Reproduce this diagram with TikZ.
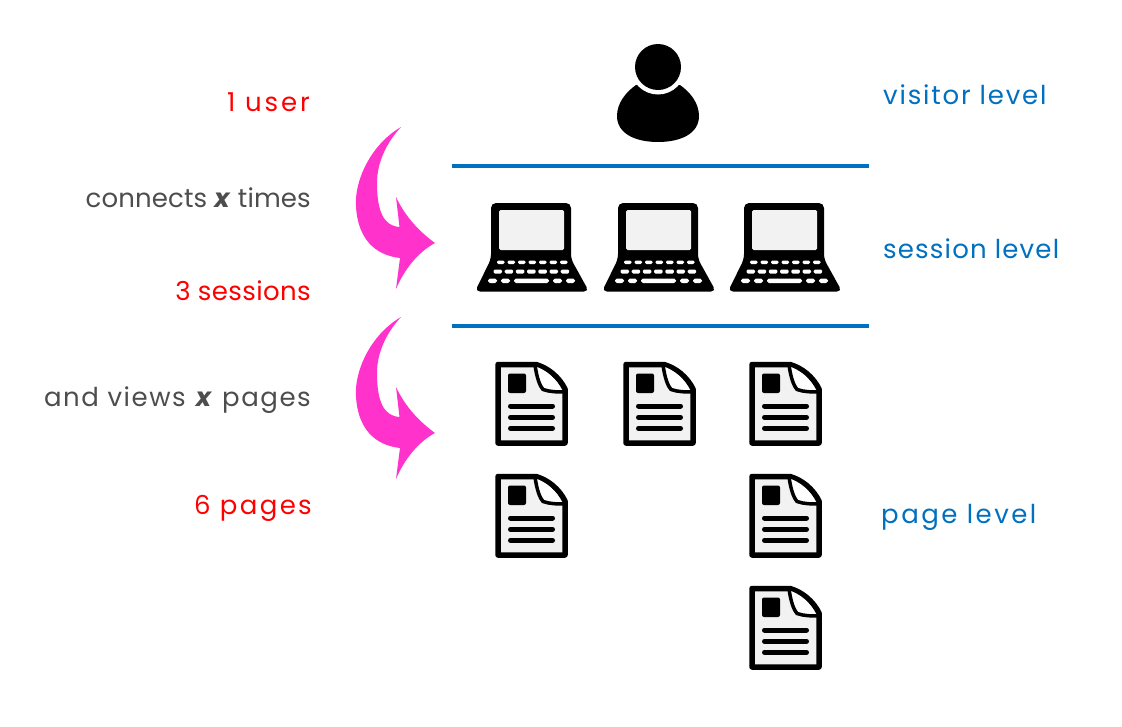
\documentclass[tikz,border=0pt]{standalone}
\usepackage{fontspec}
\setmainfont{Poppins}
\newcommand{\spc}[1]{\addfontfeature{LetterSpace=#1}}
\definecolor{lvlblue}{HTML}{0070C0}
\definecolor{txtgrey}{HTML}{4D4D4D}
\definecolor{pinkarrow}{HTML}{FF33CC}
\definecolor{panel}{HTML}{F2F2F2}
\tikzset{
 x=1pt,y=-1pt,
 lbl/.style={font=\fontsize{26}{30}\selectfont,anchor=base east,inner sep=0pt},
 red lbl/.style={lbl,text=red},
 grey lbl/.style={lbl,text=txtgrey},
 lvl/.style={font=\fontsize{26}{30}\selectfont,anchor=base west,inner sep=0pt,text=lvlblue},
 sep/.style={draw=lvlblue,line width=4pt},
 pics/laptop/.style={code={
  \fill[black,rounded corners=5pt] (21,13) -- (101,13) -- (101,69) -- (119,101.5) -- (5,101.5) -- (21,69) -- cycle;
  \fill[panel,rounded corners=1.5pt] (29,20) rectangle (94,60);
  \foreach \k in {0,...,6} {\fill[white,rounded corners=1.3pt] ({27+\k*10.5},70.5) rectangle ({34.5+\k*10.5},74);}
  \foreach \k in {0,...,6} {\fill[white,rounded corners=1.3pt] ({23.5+\k*11.2},79.5) rectangle ({32+\k*11.2},83.5);}
  \fill[white,rounded corners=1.8pt] (18,88.5) rectangle (27,93);
  \fill[white,rounded corners=1.8pt] (31,88.5) rectangle (40,93);
  \fill[white,rounded corners=1.8pt] (44,88.5) rectangle (79,93);
  \fill[white,rounded corners=1.8pt] (83,88.5) rectangle (92,93);
  \fill[white,rounded corners=1.8pt] (96,88.5) rectangle (105,93);
 }},
 pics/docpage/.style={code={
  \draw[black,line width=5.5pt,line join=round,fill=panel] (13,9.5) -- (51,9.5) .. controls (63,13) and (74,22) .. (80,34) -- (80,88) -- (13,88) -- cycle;
  \fill[white] (49,11) .. controls (52,23) and (55,30) .. (58,33) .. controls (65,35) and (72,36) .. (77,36) .. controls (72,24) and (62,15) .. (49,11) -- cycle;
  \draw[black,line width=3.5pt,line join=round] (50,10) .. controls (52,24) and (55,31) .. (58,34.5) .. controls (65,37) and (73,37) .. (80,37);
  \fill[black,rounded corners=2pt] (23,18.5) rectangle (41,38);
  \foreach \yy in {51,62.3,73.3} {\draw[black,line width=5pt,line cap=round] (25.5,\yy) -- (67.5,\yy);}
 }},
 pics/swoop/.style={code={
  \fill[pinkarrow] (61,7) .. controls (30,25) and (14,62) .. (16,87)
    .. controls (18,118) and (34,135) .. (60,138)
    -- (56,169) .. controls (64,150) and (78,132) .. (95,123)
    .. controls (80,112) and (66,98) .. (56,77)
    -- (59.5,107) .. controls (44,106) and (37,92) .. (37,63)
    .. controls (37,42) and (47,22) .. (61,7) -- cycle;
 }}
}
\begin{document}
\begin{tikzpicture}
\useasboundingbox (0,0) rectangle (1122,726);
\fill[white] (0,0) rectangle (1122,726);

\node[red lbl] (user) at (310,111) {\spc{11}1 user};
\node[grey lbl] (conn) at (311,207) {\spc{0.5}connects \textbf{\textit{x}} times};
\node[red lbl] (sess) at (311,300) {\spc{1.5}3 sessions};
\node[grey lbl] (views) at (311,406) {\spc{6}and views \textbf{\textit{x}} pages};
\node[red lbl] (pgs) at (312,514) {\spc{9}6 pages};

\node[lvl] (vl) at (883,104) {\spc{7}visitor level};
\node[lvl] (sl) at (883,258) {\spc{4.5}session level};
\node[lvl] (pl) at (881,523) {\spc{9.5}page level};

\draw[sep] (452,166) -- (869,166);
\draw[sep] (452,326) -- (869,326);

\pic at (340,120) {swoop};
\pic at (340,310) {swoop};

% person
\fill[black] (636,85) .. controls (626,92) and (617,103) .. (617,116)
  .. controls (617,134) and (636,142) .. (658,142)
  .. controls (680,142) and (699,134) .. (699,116)
  .. controls (699,103) and (690,92) .. (680,85) -- cycle;
\fill[white] (658,67) circle (27.5);
\fill[black] (658,67) circle (23);

\pic at (470,190) {laptop};
\pic at (597,190) {laptop};
\pic at (723,190) {laptop};

\pic at (485,355) {docpage};
\pic at (613,355) {docpage};
\pic at (739,355) {docpage};
\pic at (485,467) {docpage};
\pic at (739,467) {docpage};
\pic at (739,579) {docpage};
\end{tikzpicture}
\end{document}
